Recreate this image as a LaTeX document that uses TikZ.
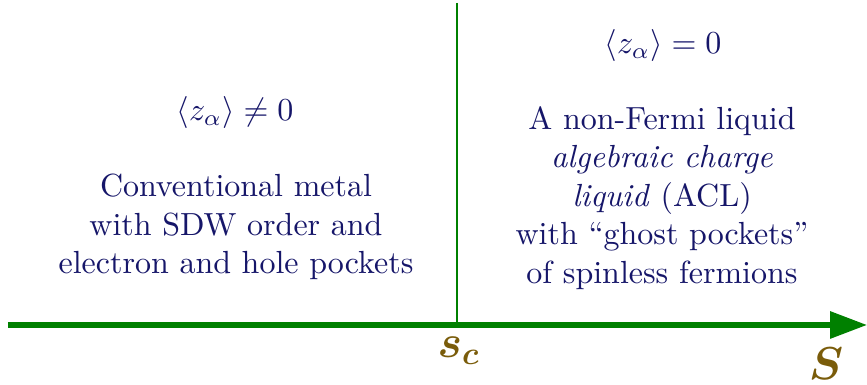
\documentclass[tikz,border=0pt]{standalone}
\usetikzlibrary{arrows.meta}
\definecolor{axgreen}{RGB}{0,128,0}
\definecolor{txtblue}{RGB}{22,22,105}
\definecolor{lblbrown}{RGB}{122,92,10}
\tikzset{
  txt/.style={text=txtblue, align=center, inner sep=0pt, font=\normalsize},
  lbl/.style={text=lblbrown, inner sep=0pt, font=\Large\boldmath},
}
\begin{document}
\begin{tikzpicture}[x=0.3125pt, y=-0.3125pt]
\useasboundingbox (0,0) rectangle (867,385);
\coordinate (a0) at (8,325);
\coordinate (a1) at (867,325);
\coordinate (v0) at (457,3);
\coordinate (v1) at (457,325);
\draw[axgreen, line width=0.5pt] (v0) -- (v1);
\draw[axgreen, line width=1.6pt, -{Triangle[length=11.5pt,width=8.2pt]}] (a0) -- (a1);
\node[txt] (lm) at (235,113) {$\langle z_\alpha\rangle\neq 0$};
\node[txt] (lt) at (236,227) {Conventional metal\\with SDW order and\\electron and hole pockets};
\node[txt] (rm) at (663,46) {$\langle z_\alpha\rangle= 0$};
\node[txt] (rt) at (662,198) {A non-Fermi liquid\\\textit{algebraic charge}\\\textit{liquid} (ACL)\\with ``ghost pockets''\\of spinless fermions};
\node[lbl] (sc) at (459,351) {$s_c$};
\node[lbl] (S) at (826,364) {$S$};
\end{tikzpicture}
\end{document}
